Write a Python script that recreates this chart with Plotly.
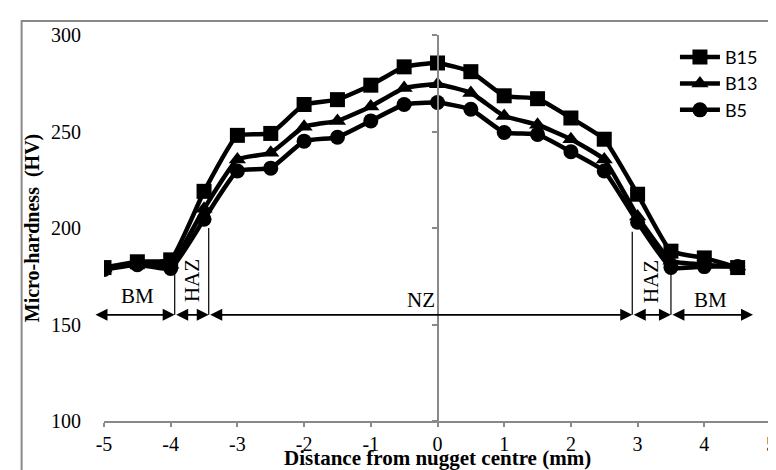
import plotly.graph_objects as go

# ---- data ----
distance = [-5, -4.5, -4, -3.5, -3, -2.5, -2, -1.5, -1, -0.5, 0, 0.5, 1, 1.5, 2, 2.5, 3, 3.5, 4, 4.5]
b15 = [179.5, 182.5, 183.5, 219, 248, 249, 264, 266.5, 274, 283.5, 285.5, 281, 268.5, 267, 257, 246, 217.5, 188, 184.5, 179.5]
b13 = [179, 181.5, 181, 210, 235.5, 239, 252.5, 255.5, 263, 272.5, 274.5, 270, 258, 253.5, 246, 235.5, 206, 183, 181, 180]
b5 = [178.5, 181, 179, 204.5, 229.5, 231, 245, 247, 255.5, 264, 265, 261.5, 249.5, 248.5, 239.5, 229.5, 203, 179.5, 180, 180]
series_names = ["B15", "B13", "B5"]
series_values = [b15, b13, b5]
series_symbols = ["square", "triangle-up", "circle"]

x_ticks = [-5, -4, -3, -2, -1, 0, 1, 2, 3, 4, 5]
x_tick_labels = ["-5", "-4", "-3", "-2", "-1", "0", "1", "2", "3", "4", "5"]
y_ticks = [100, 150, 200, 250, 300]
y_tick_labels = ["100", "150", "200", "250", "300"]

# zone annotations
zone_edges = [-5.15, -3.94, -3.43, 2.92, 3.5, 4.73]
arrow_level = 155
divider_x = [-3.94, -3.43, 2.92, 3.5]
divider_top = [176, 200, 198, 177]
zone_labels = ["BM", "HAZ", "NZ", "HAZ", "BM"]
zone_label_x = [-4.5, -3.68, -0.25, 3.2, 4.1]
zone_label_y = [164.8, 172.5, 162.7, 172.5, 162.7]
zone_label_angle = [0, -90, 0, -90, 0]

GRAY = "#898989"
SERIF = "Liberation Serif"

fig = go.Figure()
for name, vals, sym in zip(series_names, series_values, series_symbols):
    fig.add_trace(go.Scatter(
        x=distance, y=vals, name=name, mode="lines+markers",
        line=dict(color="black", width=4.5, shape="spline", smoothing=0.4),
        marker=dict(symbol=sym, size=15, color="black"),
    ))

# zone dividers
for xv, yt in zip(divider_x, divider_top):
    fig.add_shape(type="line", x0=xv, x1=xv, y0=arrow_level, y1=yt,
                  xref="x", yref="y", line=dict(color="black", width=1.2))

# double-headed arrows
for a, b in zip(zone_edges[:-1], zone_edges[1:]):
    fig.add_annotation(x=b, y=arrow_level, ax=a, ay=arrow_level,
                       xref="x", yref="y", axref="x", ayref="y",
                       showarrow=True, arrowhead=2, startarrowhead=2,
                       arrowside="end+start", arrowsize=1.5, startarrowsize=1.5,
                       arrowwidth=1.6, arrowcolor="black", text="")

for t, xv, yv, ang in zip(zone_labels, zone_label_x, zone_label_y, zone_label_angle):
    fig.add_annotation(x=xv, y=yv, xref="x", yref="y", text=t, showarrow=False,
                       textangle=ang, font=dict(family=SERIF, size=21, color="black"))

# x-axis title as annotation (to control vertical placement)
fig.add_annotation(x=0.5, y=-0.096, xref="paper", yref="paper", yanchor="middle",
                   text="<b>Distance from nugget centre (mm)</b>", showarrow=False,
                   font=dict(family=SERIF, size=21, color="black"))

# outer frame
fig.add_shape(type="rect", xref="paper", yref="paper",
              x0=-0.1235, x1=1.2, y0=-0.5, y1=1.036,
              line=dict(color=GRAY, width=2), fillcolor="rgba(0,0,0,0)", layer="below")

fig.update_layout(
    width=776, height=470,
    margin=dict(l=96, r=8, t=27, b=57),
    paper_bgcolor="white", plot_bgcolor="white",
    showlegend=True,
    legend=dict(x=0.856, y=0.99, xanchor="left", yanchor="top",
                bgcolor="rgba(0,0,0,0)", font=dict(family="Lato", size=18, color="black"),
                itemwidth=40, tracegroupgap=0),
    xaxis=dict(range=[-5, 5], tickvals=x_ticks, ticktext=x_tick_labels,
               showgrid=False, zeroline=False,
               showline=True, linecolor=GRAY, linewidth=1.5,
               ticks="outside", ticklen=4, tickcolor=GRAY, tickwidth=1.5,
               tickfont=dict(family=SERIF, size=20, color="black")),
    yaxis=dict(range=[100, 300], tickvals=y_ticks, ticktext=y_tick_labels,
               showgrid=False, zeroline=False,
               showline=False, ticks="outside", ticklen=18, tickcolor="rgba(0,0,0,0)",
               tickfont=dict(family=SERIF, size=20, color="black"),
               title=dict(text="<b>Micro-hardness  (HV)</b>",
                          font=dict(family=SERIF, size=20, color="black"), standoff=6)),
    yaxis2=dict(range=[100, 300], tickvals=y_ticks, overlaying="y", anchor="free",
                position=0.5, side="left", showgrid=False, zeroline=False,
                showline=True, linecolor=GRAY, linewidth=1.5,
                ticks="outside", ticklen=5, tickcolor=GRAY, tickwidth=1.5,
                showticklabels=False),
)
# dummy trace to activate yaxis2
fig.add_trace(go.Scatter(x=[None], y=[None], yaxis="y2", showlegend=False, hoverinfo="skip"))

fig.write_html("out.html")
